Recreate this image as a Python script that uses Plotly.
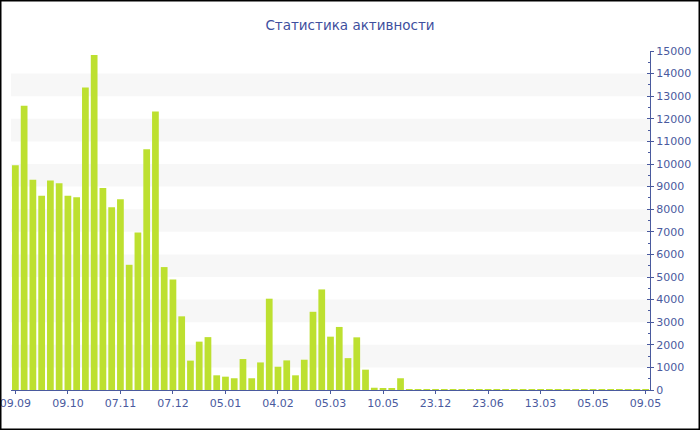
import plotly.graph_objects as go

title_text = "Статистика активности"

activity = [
    9950, 12580, 9300, 8590, 9270, 9150, 8590, 8530, 13380, 14820,
    8940, 8090, 8440, 5540, 6970, 10650, 12320, 5440, 4890, 3260,
    1300, 2140, 2340, 650, 590, 520, 1370, 520, 1220, 4040,
    1030, 1310, 650, 1340, 3460, 4450, 2360, 2790, 1410, 2330,
    900, 100, 50, 50, 520, 40, 40, 40, 40, 40,
    40, 40, 40, 40, 40, 40, 40, 40, 40, 40,
    40, 40, 40, 40, 40, 40, 40, 40, 40, 40,
    40, 40, 40,
]

tick_labels = ["09.09", "09.10", "07.11", "07.12", "05.01", "04.02", "05.03",
               "10.05", "23.12", "23.06", "13.03", "05.05", "09.05"]
tick_step = 6

positions = list(range(len(activity)))
tick_positions = [i * tick_step for i in range(len(tick_labels))]

W, H = 700, 430
ML, MR, MT, MB = 11, 50, 51, 40
PW, PH = W - ML - MR, H - MT - MB

AXIS_COLOR = "#4a5a9e"
BAR_COLOR = "#bde030"
BAND_COLOR = "#f7f7f7"
FONT = "DejaVu Sans"

fig = go.Figure()
fig.add_trace(go.Bar(
    x=positions, y=activity,
    marker=dict(color=BAR_COLOR, line=dict(width=0)),
    hoverinfo="y",
))
# invisible trace to carry the second (tick-only) y axis
fig.add_trace(go.Scatter(x=[positions[0]], y=[0], yaxis="y2", mode="markers",
                         marker=dict(opacity=0), showlegend=False, hoverinfo="skip"))

shapes = []
for lo in range(1000, 15000, 2000):
    shapes.append(dict(type="rect", xref="paper", yref="y", x0=0, x1=1,
                       y0=lo, y1=lo + 1000, fillcolor=BAND_COLOR,
                       line=dict(width=0), layer="below"))
# outer black frame
shapes.append(dict(type="rect", xref="paper", yref="paper",
                   x0=-ML / PW, x1=(PW + MR) / PW,
                   y0=-MB / PH, y1=(PH + MT) / PH,
                   line=dict(color="black", width=3), fillcolor="rgba(0,0,0,0)"))

fig.update_layout(
    width=W, height=H,
    margin=dict(l=ML, r=MR, t=MT, b=MB, autoexpand=False),
    paper_bgcolor="white", plot_bgcolor="white",
    showlegend=False,
    bargap=0.23,
    font=dict(family=FONT, size=11, color=AXIS_COLOR),
    title=dict(text=title_text, x=0.5, xref="container", xanchor="center",
               y=1 - 25 / H, yref="container", yanchor="middle",
               font=dict(family=FONT, size=13.5, color="#3e4f9e")),
    xaxis=dict(
        range=[-0.5, len(activity) - 0.5],
        tickmode="array", tickvals=tick_positions, ticktext=tick_labels,
        ticks="outside", ticklen=3, tickcolor=AXIS_COLOR,
        showline=True, linecolor=AXIS_COLOR, linewidth=1,
        showgrid=False, zeroline=False, automargin=False,
        ticklabeloverflow="allow",
        tickfont=dict(family=FONT, size=11, color=AXIS_COLOR),
    ),
    yaxis=dict(
        side="right", range=[0, 15000], dtick=1000, tick0=0,
        tickformat="d",
        ticks="outside", ticklen=3, tickcolor=AXIS_COLOR,
        showline=True, linecolor=AXIS_COLOR, linewidth=1,
        showgrid=False, zeroline=False, automargin=False,
        ticklabeloverflow="allow",
        tickfont=dict(family=FONT, size=11, color=AXIS_COLOR),
    ),
    yaxis2=dict(
        overlaying="y", side="right", range=[0, 15000], dtick=1000, tick0=0,
        ticks="inside", ticklen=3, tickcolor=AXIS_COLOR, automargin=False,
        showticklabels=False, showgrid=False, zeroline=False, showline=False,
        minor=dict(ticks="inside", ticklen=2, dtick=500, tickcolor=AXIS_COLOR),
    ),
    shapes=shapes,
)

fig.write_html("out.html",
               config={"displayModeBar": False},
               post_script="document.body.style.margin='0';document.body.style.padding='0';")
